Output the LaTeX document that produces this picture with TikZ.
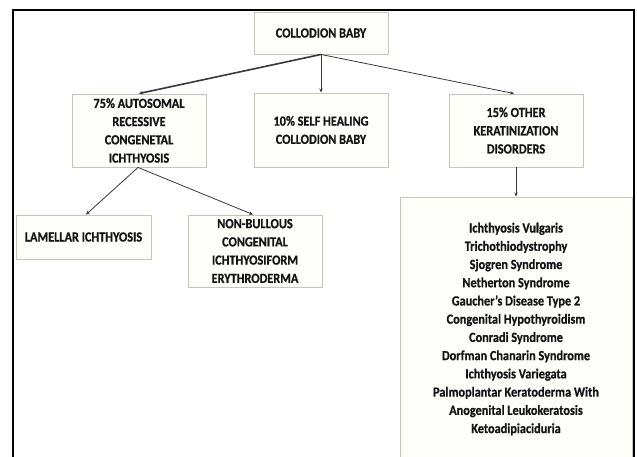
\documentclass[tikz,border=0pt]{standalone}
\usepackage{fontspec}
\setmainfont{Carlito}[FakeStretch=0.88, BoldFeatures={FakeBold=0.8}]
\usetikzlibrary{arrows.meta}
\definecolor{boxline}{HTML}{BFCAB6}
\definecolor{boxfill}{HTML}{FEFEFB}
\definecolor{ink}{HTML}{151515}
\tikzset{
  box/.style={draw=boxline, line width=0.9bp, fill=boxfill, align=center, inner sep=0pt,
    font=\fontsize{14}{18.3}\selectfont\bfseries, text=ink},
  conn/.style={draw=ink!85, line width=0.8bp, -{Stealth[length=4bp,width=3.5bp]}},
}
\begin{document}
\begin{tikzpicture}[x=1bp,y=-1bp]
\useasboundingbox (0,0) rectangle (637,457);
\clip (0,0) rectangle (637,457);
\fill[white] (0,0) rectangle (637,457);
\draw[black, line width=2.4bp] (13,10) rectangle (634,480);

\node[box, minimum width=134bp, minimum height=42bp] (root) at (321,33) {COLLODION BABY};
\node[box, minimum width=134bp, minimum height=73bp] (arci) at (139,130.5) {75\% AUTOSOMAL\\RECESSIVE\\CONGENETAL\\ICHTHYOSIS};
\node[box, minimum width=134bp, minimum height=74bp] (shcb) at (321,130) {10\% SELF HEALING\\COLLODION BABY};
\node[box, minimum width=134bp, minimum height=73bp] (other) at (516,130.5) {15\% OTHER\\KERATINIZATION\\DISORDERS};
\node[box, minimum width=135bp, minimum height=44bp] (lam) at (83.5,237) {LAMELLAR ICHTHYOSIS};
\node[box, minimum width=134bp, minimum height=72bp] (ncie) at (255,251) {NON-BULLOUS\\CONGENITAL\\ICHTHYOSIFORM\\ERYTHRODERMA};
\node[box, minimum width=232bp, minimum height=264bp] (list) at (516,329) {Ichthyosis Vulgaris\\Trichothiodystrophy\\Sjogren Syndrome\\Netherton Syndrome\\Gaucher’s Disease Type 2\\Congenital Hypothyroidism\\Conradi Syndrome\\Dorfman Chanarin Syndrome\\Ichthyosis Variegata\\Palmoplantar Keratoderma With\\Anogenital Leukokeratosis\\Ketoadipiaciduria};

\draw[conn, line width=1.6bp] (root.south) -- (arci.north);
\draw[conn] (root.south) -- (shcb.north);
\draw[conn] (root.south) -- ([xshift=-2bp]other.north);
\draw[conn] ([xshift=-1bp]arci.south) -- ([xshift=2.5bp]lam.north);
\draw[conn] ([xshift=-1bp]arci.south) -- ([xshift=-2bp]ncie.north);
\draw[conn] (other.south) -- (list.north);
\end{tikzpicture}
\end{document}
